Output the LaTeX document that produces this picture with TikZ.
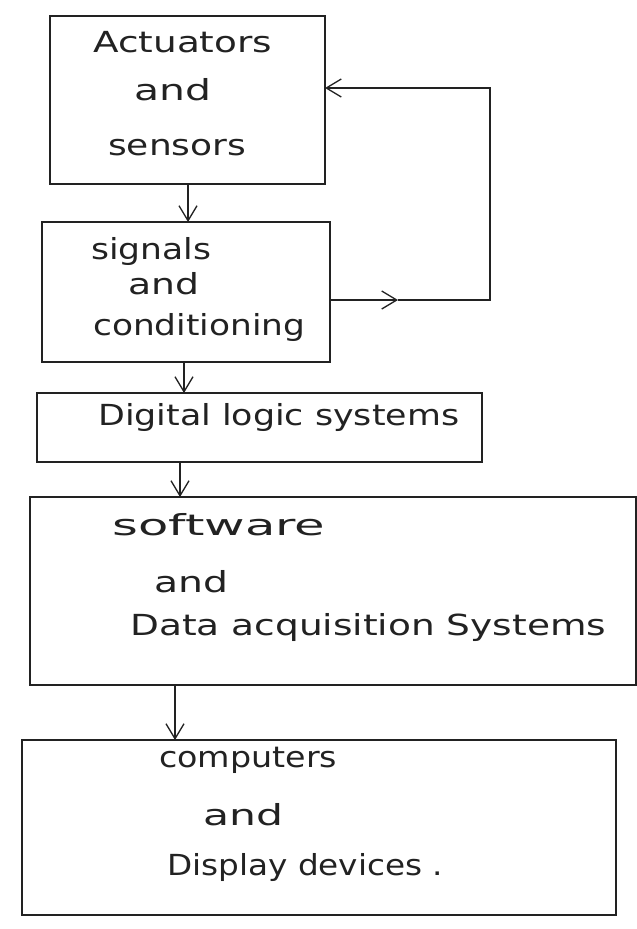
\documentclass[tikz,border=0pt]{standalone}
\usepackage{fontspec}
\setmainfont{DejaVu Sans}
\usetikzlibrary{arrows.meta}
\definecolor{ink}{HTML}{222222}
\newcommand\hwtext[2]{\resizebox{#1}{\height}{#2}}
\begin{document}
\begin{tikzpicture}[x=1pt,y=-1pt,
  box/.style={draw=ink,line width=1.3pt,inner sep=0pt,outer sep=0pt},
  lbl/.style={anchor=mid west,inner sep=0pt,text=ink,font=\fontsize{29}{31}\selectfont},
  conn/.style={draw=ink,line width=1.2pt},
  arr/.style={conn,-{Straight Barb[length=15pt,width=18pt,line width=1.3pt]}}]
\useasboundingbox[fill=white] (0,0) rectangle (637,929);

% boxes
\node[box,minimum width=275pt,minimum height=168pt] (b1) at (187.5,100) {};
\node[box,minimum width=288pt,minimum height=140pt] (b2) at (186,292) {};
\node[box,minimum width=445pt,minimum height=69pt]  (b3) at (259.5,427.5) {};
\node[box,minimum width=606pt,minimum height=188pt] (b4) at (333,591) {};
\node[box,minimum width=594pt,minimum height=175pt] (b5) at (319,827.5) {};

% texts
\node[lbl] (t1a) at (93,50)  {\hwtext{179pt}{Actuators}};
\node[lbl] (t1b) at (134,98) {\hwtext{77pt}{and}};
\node[lbl] (t1c) at (108,153) {\hwtext{138pt}{sensors}};

\node[lbl] (t2a) at (91,257) {\hwtext{120pt}{signals}};
\node[lbl] (t2b) at (128,292) {\hwtext{71pt}{and}};
\node[lbl] (t2c) at (93,333) {\hwtext{212pt}{conditioning}};

\node[lbl] (t3) at (98,423) {\hwtext{361pt}{Digital logic systems}};

\node[lbl] (t4a) at (112,533) {\hwtext{213pt}{software}};
\node[lbl] (t4b) at (154,590) {\hwtext{74pt}{and}};
\node[lbl] (t4c) at (130,633) {\hwtext{476pt}{Data acquisition Systems}};

\node[lbl] (t5a) at (159,765) {\hwtext{178pt}{computers}};
\node[lbl] (t5b) at (203,823) {\hwtext{80pt}{and}};
\node[lbl] (t5c) at (167,873) {\hwtext{276pt}{Display devices .}};

% connector x positions
\coordinate (x12) at (188,0);
\coordinate (x23) at (184,0);
\coordinate (x34) at (180,0);
\coordinate (x45) at (175,0);
\draw[arr] (b1.south -| x12) -- (b2.north -| x12);
\draw[arr] (b2.south -| x23) -- (b3.north -| x23);
\draw[arr] (b3.south -| x34) -- (b4.north -| x34);
\draw[arr] (b4.south -| x45) -- (b5.north -| x45);

% feedback loop
\coordinate (fbR) at (490,0);
\coordinate (y300) at (0,300);
\coordinate (y88) at (0,88);
\coordinate (fbM) at (398,300);
\draw[arr] (b2.east |- y300) -- (fbM);
\draw[arr] (fbM) -- (fbR |- y300) -- (fbR |- y88) -- (b1.east |- y88);
\end{tikzpicture}
\end{document}
